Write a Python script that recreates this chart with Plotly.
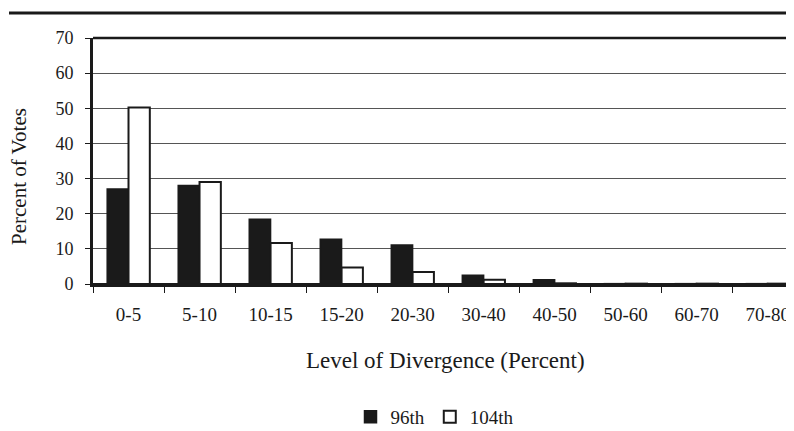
import plotly.graph_objects as go

categories = ["0-5", "5-10", "10-15", "15-20", "20-30", "30-40", "40-50", "50-60", "60-70", "70-80"]
votes_96th = [27, 28, 18.4, 12.7, 11.1, 2.5, 1.2, 0.1, 0.1, 0.1]
votes_104th = [50.2, 29, 11.7, 4.7, 3.4, 1.2, 0.2, 0.1, 0.1, 0.1]
y_ticks = [0, 10, 20, 30, 40, 50, 60, 70]

FONT = "Liberation Serif, Times New Roman, serif"
INK = "#1a1a1a"

# page body has an 8px default margin; the figure is sized/offset for it
OFF = 8
W, H = 794 - OFF, 431 - OFF
L, T, B = 93 - OFF, 38 - OFF, 147
pw = W - L
ph = H - T - B


def px_x(x):
    return (x - OFF - L) / pw


def px_y(y):
    return (H - B - (y - OFF)) / ph


fig = go.Figure()
fig.add_trace(go.Bar(x=categories, y=votes_96th, name="96th",
                     marker=dict(color=INK, line=dict(color=INK, width=1.5))))
fig.add_trace(go.Bar(x=categories, y=votes_104th, name="104th",
                     marker=dict(color="white", line=dict(color=INK, width=2))))

fig.update_layout(
    width=W, height=H,
    margin=dict(l=L, r=0, t=T, b=B, autoexpand=False),
    paper_bgcolor="white", plot_bgcolor="white",
    barmode="group", bargap=0.4, bargroupgap=0.0,
    font=dict(family=FONT, size=18, color=INK),
    showlegend=True,
    legend=dict(orientation="h", xref="container", yref="container",
                x=(435 - OFF) / W, xanchor="center", y=1 - (417 - OFF) / H, yanchor="middle",
                font=dict(family=FONT, size=19), itemwidth=30, traceorder="normal",
                itemclick=False, tracegroupgap=0),
    xaxis=dict(range=[-0.5, 9.37], showgrid=False, ticks="outside", tickson="boundaries",
               ticklen=6, tickcolor=INK, tickwidth=1, showline=True, automargin=False,
               linecolor=INK, linewidth=2.5, ticklabelstandoff=11,
               tickfont=dict(family=FONT, size=19)),
    yaxis=dict(range=[0, 70], tickvals=y_ticks, showgrid=True, gridcolor="#555555",
               gridwidth=1, ticks="outside", ticklen=5, tickcolor=INK, automargin=False,
               showline=True, linecolor=INK, linewidth=3, zeroline=True,
               zerolinecolor=INK, zerolinewidth=2.5,
               ticklabelstandoff=8, tickfont=dict(family=FONT, size=18)),
    annotations=[
        dict(text="Percent of Votes", x=px_x(19), y=px_y(177),
             xref="paper", yref="paper", xanchor="center", yanchor="middle",
             showarrow=False, textangle=-90, font=dict(family=FONT, size=21)),
        dict(text="Level of Divergence (Percent)", x=px_x(445), y=px_y(360),
             xref="paper", yref="paper", xanchor="center", yanchor="middle",
             showarrow=False, font=dict(family=FONT, size=23)),
    ],
)

fig.add_shape(type="line", xref="paper", yref="paper",
              x0=px_x(9), x1=1.0, y0=px_y(13), y1=px_y(13),
              line=dict(color=INK, width=3))
fig.add_shape(type="line", xref="paper", yref="paper",
              x0=0, x1=1.0, y0=1, y1=1, line=dict(color=INK, width=2.5))

fig.write_html("out.html")
